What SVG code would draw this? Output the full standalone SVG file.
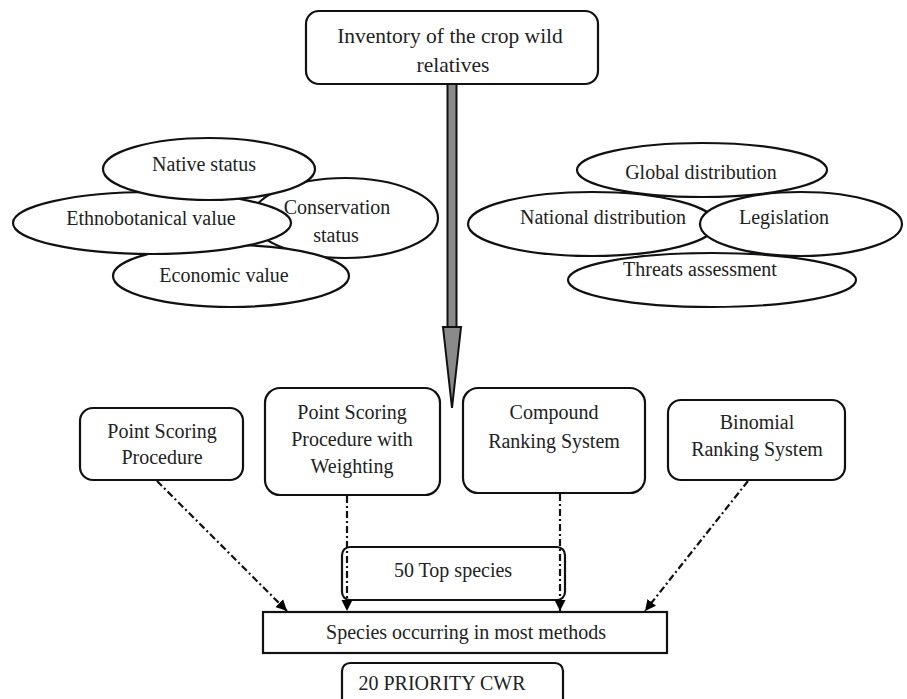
<svg xmlns="http://www.w3.org/2000/svg" width="907" height="699" viewBox="0 0 907 699">
<defs>
<marker id="ah" markerUnits="userSpaceOnUse" markerWidth="12" markerHeight="12" refX="11" refY="6" orient="auto">
<path d="M0,0.5 L11,6 L0,11.5 z" fill="#000"/>
</marker>
<style>
text{font-family:"Liberation Serif","Times New Roman",serif;font-size:20px;fill:#222;text-anchor:middle}
.big{font-size:21.5px}
.box{fill:#fff;stroke:#111;stroke-width:2.2}
.ell{fill:#fff;stroke:#111;stroke-width:2.2}
.con{fill:none;stroke:#111;stroke-width:2.2;stroke-dasharray:7 3 2 3}
</style>
</defs>
<rect width="907" height="699" fill="#fff"/>

<g id="inventory">
<rect class="box" x="306" y="11" width="292" height="73" rx="13"/>
<text class="big" x="450" y="43">Inventory of the crop wild</text>
<text class="big" x="453" y="72">relatives</text>
</g>

<g id="left-criteria">
<g id="conservation"><ellipse class="ell" cx="345" cy="218" rx="93" ry="40"/></g>
<g id="economic"><ellipse class="ell" cx="231" cy="276" rx="118" ry="31"/><text x="224" y="282">Economic value</text></g>
<g id="ethnobotanical"><ellipse class="ell" cx="152" cy="223" rx="139" ry="31"/><text x="151" y="225">Ethnobotanical value</text></g>
<g id="native"><ellipse class="ell" cx="209" cy="169" rx="106" ry="31"/><text x="204" y="171">Native status</text></g>
<g id="conservation-label"><text x="337" y="214">Conservation</text><text x="336" y="242">status</text></g>
</g>

<g id="right-criteria">
<g id="global"><ellipse class="ell" cx="702" cy="170" rx="125" ry="27"/><text x="701" y="179">Global distribution</text></g>
<g id="threats"><ellipse class="ell" cx="712" cy="280" rx="144" ry="27"/><text x="700" y="276">Threats assessment</text></g>
<g id="national"><ellipse class="ell" cx="592" cy="224" rx="124" ry="32"/><text x="603" y="224">National distribution</text></g>
<g id="legislation"><ellipse class="ell" cx="801" cy="224" rx="101" ry="32"/><text x="784" y="224">Legislation</text></g>
</g>

<g id="big-arrow">
<rect x="447.5" y="84" width="9" height="243" fill="#8a8a8a" stroke="#111" stroke-width="2"/>
<polygon points="443,327 461,327 452,408" fill="#8a8a8a" stroke="#111" stroke-width="2"/>
</g>

<g id="psp">
<rect class="box" x="80" y="408" width="163" height="72" rx="13"/>
<text x="162" y="438">Point Scoring</text>
<text x="162" y="464">Procedure</text>
</g>
<g id="pspw">
<rect class="box" x="265" y="388" width="175" height="107" rx="15"/>
<text x="352" y="419">Point Scoring</text>
<text x="352" y="446">Procedure with</text>
<text x="352" y="473">Weighting</text>
</g>
<g id="compound">
<rect class="box" x="463" y="388" width="182" height="105" rx="15"/>
<text x="554" y="419">Compound</text>
<text x="554" y="448">Ranking System</text>
</g>
<g id="binomial">
<rect class="box" x="668" y="400" width="177" height="80" rx="13"/>
<text x="757" y="429">Binomial</text>
<text x="757" y="456">Ranking System</text>
</g>

<g id="top50">
<rect class="box" x="342" y="547" width="223" height="53" rx="8" fill="none"/>
<text x="453" y="577">50 Top species</text>
</g>

<g id="species">
<rect class="box" x="263" y="612" width="404" height="41"/>
<text x="466" y="639">Species occurring in most methods</text>
</g>

<g id="priority">
<rect class="box" x="342" y="663" width="221" height="50" rx="8"/>
<text x="442" y="690">20 PRIORITY CWR</text>
</g>

<g id="connectors">
<line class="con" x1="157" y1="481" x2="287" y2="611" marker-end="url(#ah)"/>
<line class="con" x1="347" y1="496" x2="347" y2="611" marker-end="url(#ah)"/>
<line class="con" x1="560" y1="494" x2="560" y2="611" marker-end="url(#ah)"/>
<line class="con" x1="748" y1="481" x2="645" y2="611" marker-end="url(#ah)"/>
</g>
</svg>
